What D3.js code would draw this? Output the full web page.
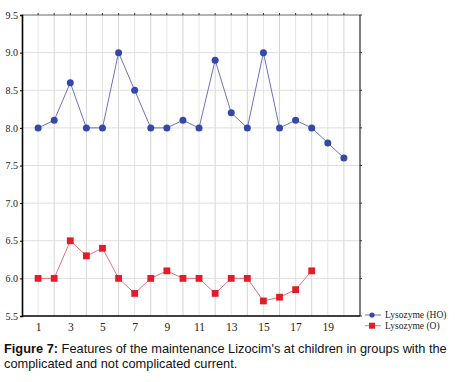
<!DOCTYPE html>
<html>
<head>
<meta charset="utf-8">
<script src="https://cdn.jsdelivr.net/npm/d3@7"></script>
<style>
body { margin: 0; background: #fff; }
#app { position: relative; width: 455px; height: 382px; }
.caption { position: absolute; left: 4px; top: 342px; width: 451px; font-family: Arial, "Liberation Sans", sans-serif; font-size: 12.8px; line-height: 14.5px; color: #111; }
</style>
</head>
<body>
<div id="app"></div>
<script>
const groups = d3.range(1, 21)
const hoValues = [8.0, 8.1, 8.6, 8.0, 8.0, 9.0, 8.5, 8.0, 8.0, 8.1, 8.0, 8.9, 8.2, 8.0, 9.0, 8.0, 8.1, 8.0, 7.8, 7.6]
const oValues = [6.0, 6.0, 6.5, 6.3, 6.4, 6.0, 5.8, 6.0, 6.1, 6.0, 6.0, 5.8, 6.0, 6.0, 5.7, 5.75, 5.85, 6.1]
const yTicks = [5.5, 6.0, 6.5, 7.0, 7.5, 8.0, 8.5, 9.0, 9.5]
const xTicks = [1, 3, 5, 7, 9, 11, 13, 15, 17, 19]
const seriesNames = ['Lysozyme (HO)', 'Lysozyme (O)']

const app = d3.select('#app')
const width = 455, height = 382
const svg = app.append('svg').attr('width', width).attr('height', height)

const plotLeft = 22, plotRight = 360, plotTop = 15, plotBottom = 316
const x = d3.scaleLinear().domain([0, 21]).range([plotLeft, plotRight])
const y = d3.scaleLinear().domain([5.5, 9.5]).range([plotBottom, plotTop])

// grid
svg.append('g').selectAll('line')
    .data(groups).enter().append('line')
    .attr('x1', d => x(d)).attr('x2', d => x(d))
    .attr('y1', plotTop).attr('y2', plotBottom)
    .attr('stroke', (d, i) => i % 2 ? '#d4d4d4' : '#e6e6e6')
svg.append('g').selectAll('line')
    .data(yTicks.slice(1, -1)).enter().append('line')
    .attr('x1', plotLeft).attr('x2', plotRight)
    .attr('y1', d => y(d)).attr('y2', d => y(d))
    .attr('stroke', '#dedede')

// frame
svg.append('line').attr('x1', plotLeft).attr('x2', plotRight).attr('y1', plotTop).attr('y2', plotTop).attr('stroke', '#666')
svg.append('line').attr('x1', plotRight).attr('x2', plotRight).attr('y1', plotTop).attr('y2', plotBottom).attr('stroke', '#000')

const serif = '"Liberation Serif", "Times New Roman", serif'
const yAxis = svg.append('g').attr('transform', `translate(${plotLeft},0)`)
    .call(d3.axisLeft(y).tickValues(yTicks).tickFormat(d3.format('.1f')).tickSize(2).tickPadding(2))
const xAxis = svg.append('g').attr('transform', `translate(0,${plotBottom})`)
    .call(d3.axisBottom(x).tickValues(xTicks).tickFormat(d3.format('d')).tickSize(0).tickPadding(7))
yAxis.select('.domain').attr('stroke-width', 1.6)
xAxis.select('.domain').attr('stroke-width', 1.6).attr('d', `M${plotLeft},0H${plotRight}`)
yAxis.selectAll('text').style('font-family', serif).style('font-size', '10px').attr('fill', '#222')
xAxis.selectAll('text').style('font-family', serif).style('font-size', '11.5px').attr('fill', '#222')
// small ticks on top and right
svg.append('g').selectAll('line').data(groups).enter().append('line')
    .attr('x1', d => x(d)).attr('x2', d => x(d)).attr('y1', plotTop - 2).attr('y2', plotTop)
    .attr('stroke', '#333')
svg.append('g').selectAll('line').data(yTicks).enter().append('line')
    .attr('x1', plotRight).attr('x2', plotRight + 2).attr('y1', d => y(d)).attr('y2', d => y(d))
    .attr('stroke', '#333')

const line = d3.line().x((d, i) => x(groups[i])).y(d => y(d))

// HO series
svg.append('path').datum(hoValues).attr('d', line)
    .attr('fill', 'none').attr('stroke', '#6a72c0').attr('stroke-width', 1)
svg.append('g').selectAll('circle').data(hoValues).enter().append('circle')
    .attr('cx', (d, i) => x(groups[i])).attr('cy', d => y(d)).attr('r', 3.5)
    .attr('fill', '#3448a8')

// O series
svg.append('path').datum(oValues).attr('d', line)
    .attr('fill', 'none').attr('stroke', '#e8707a').attr('stroke-width', 1)
svg.append('g').selectAll('rect').data(oValues).enter().append('rect')
    .attr('x', (d, i) => x(groups[i]) - 3.4).attr('y', d => y(d) - 3.4)
    .attr('width', 6.8).attr('height', 6.8)
    .attr('fill', '#e41c2a')

// legend
const legend = svg.append('g').attr('transform', 'translate(365,315)')
const legendColors = [['#6a72c0', '#3448a8'], ['#e8707a', '#e41c2a']]
seriesNames.forEach((name, i) => {
    const g = legend.append('g').attr('transform', `translate(0,${i * 10.7})`)
    g.append('line').attr('x1', 0).attr('x2', 16).attr('stroke', legendColors[i][0])
    if (i === 0) g.append('circle').attr('cx', 7).attr('r', 2.6).attr('fill', legendColors[i][1])
    else g.append('rect').attr('x', 4).attr('y', -3).attr('width', 6).attr('height', 6).attr('fill', legendColors[i][1])
    g.append('text').attr('x', 20).attr('dy', '0.33em').text(name)
        .style('font-family', serif).style('font-size', '9.5px').attr('fill', '#222')
})

const caption = app.append('div').attr('class', 'caption')
caption.append('b').text('Figure 7:')
caption.append('span').text(' Features of the maintenance Lizocim\'s at children in groups with the complicated and not complicated current.')
</script>
</body>
</html>
